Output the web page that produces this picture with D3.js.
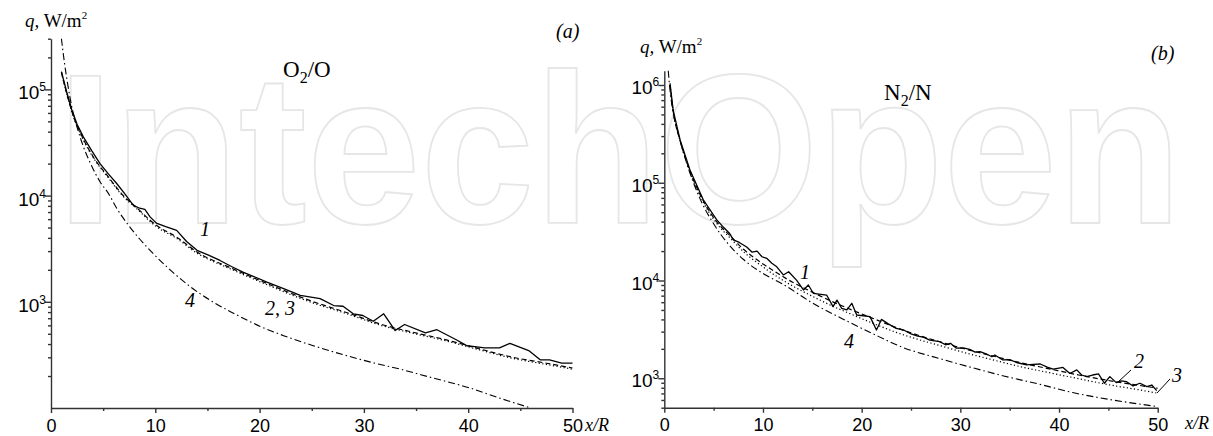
<!DOCTYPE html>
<html><head><meta charset="utf-8">
<script src="https://cdn.jsdelivr.net/npm/d3@7"></script>
<style>body{margin:0;background:#fff}svg{display:block}</style>
</head><body>
<svg id="c" width="1213" height="436"></svg>
<script>
// ---------- tick values ----------
const xTickValues = [0, 10, 20, 30, 40, 50];
const xMinorValues = [5, 15, 25, 35, 45];
const leftYMajor = [1e3, 1e4, 1e5];
const rightYMajor = [1e3, 1e4, 1e5, 1e6];

// ---------- panel (a): O2/O ----------  [x/R, q W/m^2]
const aCurve1 = [[1.0,1.47e5],[1.5,9.5e4],[2.0,6.4e4],[2.5,4.7e4],[3.1,3.57e4],[3.9,2.65e4],[4.7,2.0e4],[5.5,1.6e4],[6.3,1.3e4],[7.1,1.03e4],[7.9,8.1e3],[8.5,7.6e3],[9.0,7.4e3],[9.5,6.3e3],[10.1,5.5e3],[11.0,5.1e3],[12.05,4.7e3],[13.0,3.7e3],[14.0,3.05e3],[15.1,2.75e3],[16.2,2.45e3],[17.3,2.15e3],[18.4,1.9e3],[19.5,1.72e3],[20.7,1.53e3],[22.3,1.33e3],[23.9,1.15e3],[25.8,1.07e3],[27.1,922],[28.0,908],[28.98,771],[29.9,743],[30.9,656],[31.9,771],[33.0,536],[33.9,611],[35.9,510],[37.0,546],[38.9,437],[39.85,387],[41.6,368],[43.0,368],[44.0,406],[45.8,347],[46.9,284],[47.8,284],[48.96,264],[50.0,264]];
const aCurve2 = [[1.0,1.45e5],[1.5,9.2e4],[2.0,6.2e4],[3.1,3.4e4],[4.06,2.31e4],[5.5,1.5e4],[6.77,1.04e4],[8.5,7.26e3],[9.5,5.85e3],[10.1,5.25e3],[12.05,4.06e3],[14.0,2.94e3],[17.2,2.09e3],[20.0,1.59e3],[24.8,1.03e3],[28.7,771],[31.5,620],[34.7,517],[37.9,438],[41.1,360],[44.3,300],[47.5,264],[50.0,238]];
const aCurve3 = [[1.0,1.44e5],[1.5,9.1e4],[2.0,6.1e4],[3.1,3.35e4],[4.06,2.27e4],[5.5,1.47e4],[6.77,1.02e4],[8.5,7.1e3],[9.5,5.7e3],[10.1,5.1e3],[12.05,3.95e3],[14.0,2.87e3],[17.2,2.04e3],[20.0,1.55e3],[24.8,1.0e3],[28.7,752],[31.5,605],[34.7,505],[37.9,428],[41.1,352],[44.3,293],[47.5,257],[50.0,232]];
const aCurve4 = [[1.0,3.0e5],[1.3,1.75e5],[1.6,1.12e5],[2.0,6.8e4],[2.5,4.4e4],[3.1,2.9e4],[3.9,1.9e4],[4.7,1.35e4],[5.5,1.05e4],[6.3,7.6e3],[7.4,5.3e3],[8.5,3.9e3],[9.5,3.05e3],[11.3,2.05e3],[13.3,1.4e3],[15.5,1.0e3],[17.5,780],[20.0,590],[22.3,480],[25.0,390],[28.0,318],[31.0,265],[33.5,232],[36.5,193],[40.0,156],[43.0,124],[46.0,100]];

// ---------- panel (b): N2/N ----------
const bCurve1 = [[0.58,1.04e6],[0.9,5.5e5],[1.6,2.74e5],[2.6,1.35e5],[3.95,6.7e4],[5.3,4.2e4],[6.0,3.5e4],[6.6,3.05e4],[7.0,2.6e4],[7.6,2.45e4],[8.35,2.2e4],[8.9,1.95e4],[9.4,2.0e4],[9.9,1.75e4],[10.4,1.68e4],[10.9,1.5e4],[11.4,1.38e4],[12.06,1.14e4],[12.6,1.23e4],[13.4,1.01e4],[14.1,8.0e3],[14.6,9.0e3],[15.1,7.4e3],[16.45,7.1e3],[17.1,5.4e3],[17.5,6.3e3],[17.97,5.2e3],[18.5,5.0e3],[19.0,5.85e3],[19.5,4.44e3],[20.85,4.27e3],[21.5,3.12e3],[22.0,4.0e3],[22.7,3.6e3],[23.5,3.24e3],[24.3,3.1e3],[25.0,2.85e3],[25.6,2.71e3],[26.3,2.62e3],[26.9,2.46e3],[27.9,2.37e3],[28.5,2.2e3],[29.0,2.28e3],[29.6,2.03e3],[30.3,2.05e3],[30.95,1.98e3],[31.5,1.85e3],[32.0,1.87e3],[32.6,1.78e3],[33.2,1.66e3],[33.5,1.73e3],[34.3,1.54e3],[35.0,1.55e3],[35.7,1.45e3],[36.7,1.37e3],[37.4,1.39e3],[38.1,1.40e3],[38.8,1.30e3],[39.4,1.24e3],[40.0,1.27e3],[40.4,1.29e3],[41.1,1.12e3],[41.8,1.22e3],[42.3,1.08e3],[42.8,1.04e3],[43.4,1.08e3],[44.0,1.11e3],[44.6,889],[45.15,1.04e3],[45.8,902],[46.3,940],[46.85,923],[47.5,834],[48.2,889],[48.9,820],[49.4,853],[49.9,747]];
const bCurve2 = [[0.58,1.0e6],[0.9,5.4e5],[1.6,2.7e5],[2.6,1.32e5],[4.0,6.4e4],[5.3,4.0e4],[6.7,2.85e4],[8.0,2.1e4],[9.7,1.55e4],[11.4,1.2e4],[13.0,9.6e3],[15.0,7.6e3],[17.0,6.1e3],[19.0,5.0e3],[21.0,4.15e3],[23.5,3.3e3],[26.0,2.7e3],[28.0,2.35e3],[30.0,2.05e3],[33.0,1.72e3],[36.0,1.45e3],[39.0,1.25e3],[42.0,1.08e3],[45.0,950],[48.0,850],[50.0,790]];
const bCurve3 = [[0.58,1.0e6],[0.9,5.4e5],[1.6,2.7e5],[2.6,1.3e5],[4.0,6.2e4],[5.3,3.85e4],[6.7,2.7e4],[8.0,1.98e4],[9.7,1.45e4],[11.4,1.1e4],[13.0,8.8e3],[15.0,6.9e3],[17.0,5.5e3],[19.0,4.5e3],[21.0,3.7e3],[23.5,2.95e3],[26.0,2.45e3],[28.0,2.15e3],[30.0,1.88e3],[33.0,1.57e3],[36.0,1.32e3],[39.0,1.14e3],[42.0,990],[45.0,860],[48.0,765],[50.0,703]];
const bCurve4 = [[0.4,1.4e6],[0.6,8.5e5],[0.9,5.2e5],[1.3,3.5e5],[2.3,1.55e5],[3.5,7.3e4],[5.0,3.8e4],[6.5,2.35e4],[8.0,1.65e4],[10.0,1.18e4],[12.0,9.2e3],[15.0,5.9e3],[18.5,3.85e3],[21.0,2.9e3],[24.0,2.1e3],[28.0,1.58e3],[31.0,1.3e3],[34.5,1.05e3],[38.0,870],[41.5,710],[45.0,610],[50.0,513]];

const svg = d3.select('#c');
const SERIF = "'Liberation Serif','Times New Roman',serif";
const SANS = "'Liberation Sans',Arial,sans-serif";

// watermark
svg.append('text')
  .attr('x', 57).attr('y', 223)
  .attr('font-family', "'Liberation Sans',Arial,sans-serif").attr('font-weight', 'bold').attr('font-size', 214)
  .attr('textLength', 1125).attr('lengthAdjust', 'spacingAndGlyphs')
  .attr('fill', 'none').attr('stroke', '#e6e6e6').attr('stroke-width', 1.8)
  .text('IntechOpen');

const styles = {
  solid:   {dash: null,          w: 1.3, curve: d3.curveLinear},
  dashed:  {dash: '5,3',         w: 1.2, curve: d3.curveMonotoneX},
  dotted:  {dash: '1.2,2.4',     w: 1.2, curve: d3.curveMonotoneX},
  dashdot: {dash: '7,3,1.5,3',   w: 1.1, curve: d3.curveMonotoneX}
};

function minorTicks(lo, hi) {
  const out = [];
  for (let e = Math.floor(Math.log10(lo)); e <= Math.ceil(Math.log10(hi)); e++) {
    for (let m = 2; m <= 9; m++) { const v = m * Math.pow(10, e); if (v >= lo && v <= hi) out.push(v); }
  }
  return out;
}

function panel(cfg) {
  const x = d3.scaleLinear().domain([0, 50]).range(cfg.xr);
  const y = d3.scaleLog().domain(cfg.yd).range(cfg.yr);
  const g = svg.append('g');
  const x0 = cfg.xr[0], yb = cfg.yr[0];

  cfg.series.forEach(s => {
    const st = styles[s.style];
    const line = d3.line().x(d => x(d[0])).y(d => y(d[1])).curve(st.curve);
    g.append('path').datum(s.data).attr('d', line)
      .attr('fill', 'none').attr('stroke', '#000').attr('stroke-width', st.w)
      .attr('stroke-dasharray', st.dash).attr('stroke-linejoin', 'round');
  });

  const xa = g.append('g').attr('transform', `translate(0,${yb})`)
    .call(d3.axisBottom(x).tickValues(xTickValues).tickSize(5).tickSizeOuter(0).tickPadding(6).tickFormat(d3.format('d')));
  g.append('g').attr('transform', `translate(0,${yb})`)
    .call(d3.axisBottom(x).tickValues(xMinorValues).tickSize(3).tickSizeOuter(0).tickFormat(''))
    .select('.domain').remove();
  xa.selectAll('text').attr('font-family', SANS).attr('font-size', 18).attr('fill', '#000');

  g.append('g').attr('transform', `translate(${x0},0)`)
    .call(d3.axisLeft(y).tickValues(cfg.major).tickSize(6).tickSizeOuter(0).tickFormat(''));
  g.append('g').attr('transform', `translate(${x0},0)`)
    .call(d3.axisLeft(y).tickValues(minorTicks(cfg.yd[0], cfg.yd[1])).tickSize(3).tickSizeOuter(0).tickFormat(''))
    .select('.domain').remove();
  g.selectAll('.domain, .tick line').attr('stroke', '#333').attr('stroke-width', 1.4);

  cfg.major.forEach(v => {
    const t = g.append('text').attr('x', x0 - 5).attr('y', y(v) + cfg.labDy)
      .attr('text-anchor', 'end').attr('font-family', SANS).attr('font-size', 19).attr('fill', '#000');
    t.append('tspan').text('10');
    t.append('tspan').attr('font-size', 12).attr('dy', -8).text(Math.round(Math.log10(v)));
  });

  const yt = g.append('text').attr('x', cfg.yTitle[0]).attr('y', cfg.yTitle[1])
    .attr('font-family', SERIF).attr('font-size', 19).attr('fill', '#000');
  yt.append('tspan').attr('font-style', 'italic').text('q,');
  yt.append('tspan').text(' W/m');
  yt.append('tspan').attr('font-size', 11).attr('dy', -8).text('2');

  g.append('text').attr('x', cfg.xTitle[0]).attr('y', cfg.xTitle[1])
    .attr('font-family', SERIF).attr('font-style', 'italic').attr('font-size', 18).attr('fill', '#000').text('x/R');

  g.append('text').attr('x', cfg.letter[0]).attr('y', cfg.letter[1])
    .attr('font-family', SERIF).attr('font-style', 'italic').attr('font-size', 20).attr('fill', '#000').text(cfg.letter[2]);

  const gl = g.append('text').attr('x', cfg.gas[0]).attr('y', cfg.gas[1])
    .attr('font-family', SERIF).attr('font-size', 23).attr('fill', '#000');
  gl.append('tspan').text(cfg.gas[2]);
  gl.append('tspan').attr('font-size', 16).attr('dy', 6).text('2');
  gl.append('tspan').attr('dy', -6).text(cfg.gas[3]);

  cfg.labels.forEach(l => {
    g.append('text').attr('x', l[0]).attr('y', l[1])
      .attr('font-family', SERIF).attr('font-style', 'italic').attr('font-size', 20).attr('fill', '#000').text(l[2]);
  });
  (cfg.leaders || []).forEach(p => {
    g.append('line').attr('x1', p[0]).attr('y1', p[1]).attr('x2', p[2]).attr('y2', p[3])
      .attr('stroke', '#000').attr('stroke-width', 1);
  });
}

panel({
  xr: [51, 572.5], yd: [100, 3e5], yr: [408, 38.7], major: leftYMajor, labDy: 10,
  series: [
    {data: aCurve4, style: 'dashdot'},
    {data: aCurve3, style: 'dotted'},
    {data: aCurve2, style: 'dashed'},
    {data: aCurve1, style: 'solid'}
  ],
  yTitle: [25, 27], xTitle: [585, 431], letter: [556, 38, '(a)'], gas: [283, 77, 'O', '/O'],
  labels: [[200, 236, '1'], [185, 307, '4'], [265, 315, '2, 3']]
});

panel({
  xr: [664.3, 1157.7], yd: [500, 1.4e6], yr: [407.7, 70.7], major: rightYMajor, labDy: 9,
  series: [
    {data: bCurve4, style: 'dashdot'},
    {data: bCurve3, style: 'dotted'},
    {data: bCurve2, style: 'dashed'},
    {data: bCurve1, style: 'solid'}
  ],
  yTitle: [640, 53], xTitle: [1185, 429], letter: [1151, 60, '(b)'], gas: [884, 100, 'N', '/N'],
  labels: [[800, 279, '1'], [844, 348, '4'], [1134, 368, '2'], [1172, 382, '3']],
  leaders: [[1131, 370, 1118, 382], [1170, 379, 1157, 393]]
});
</script>
</body></html>
